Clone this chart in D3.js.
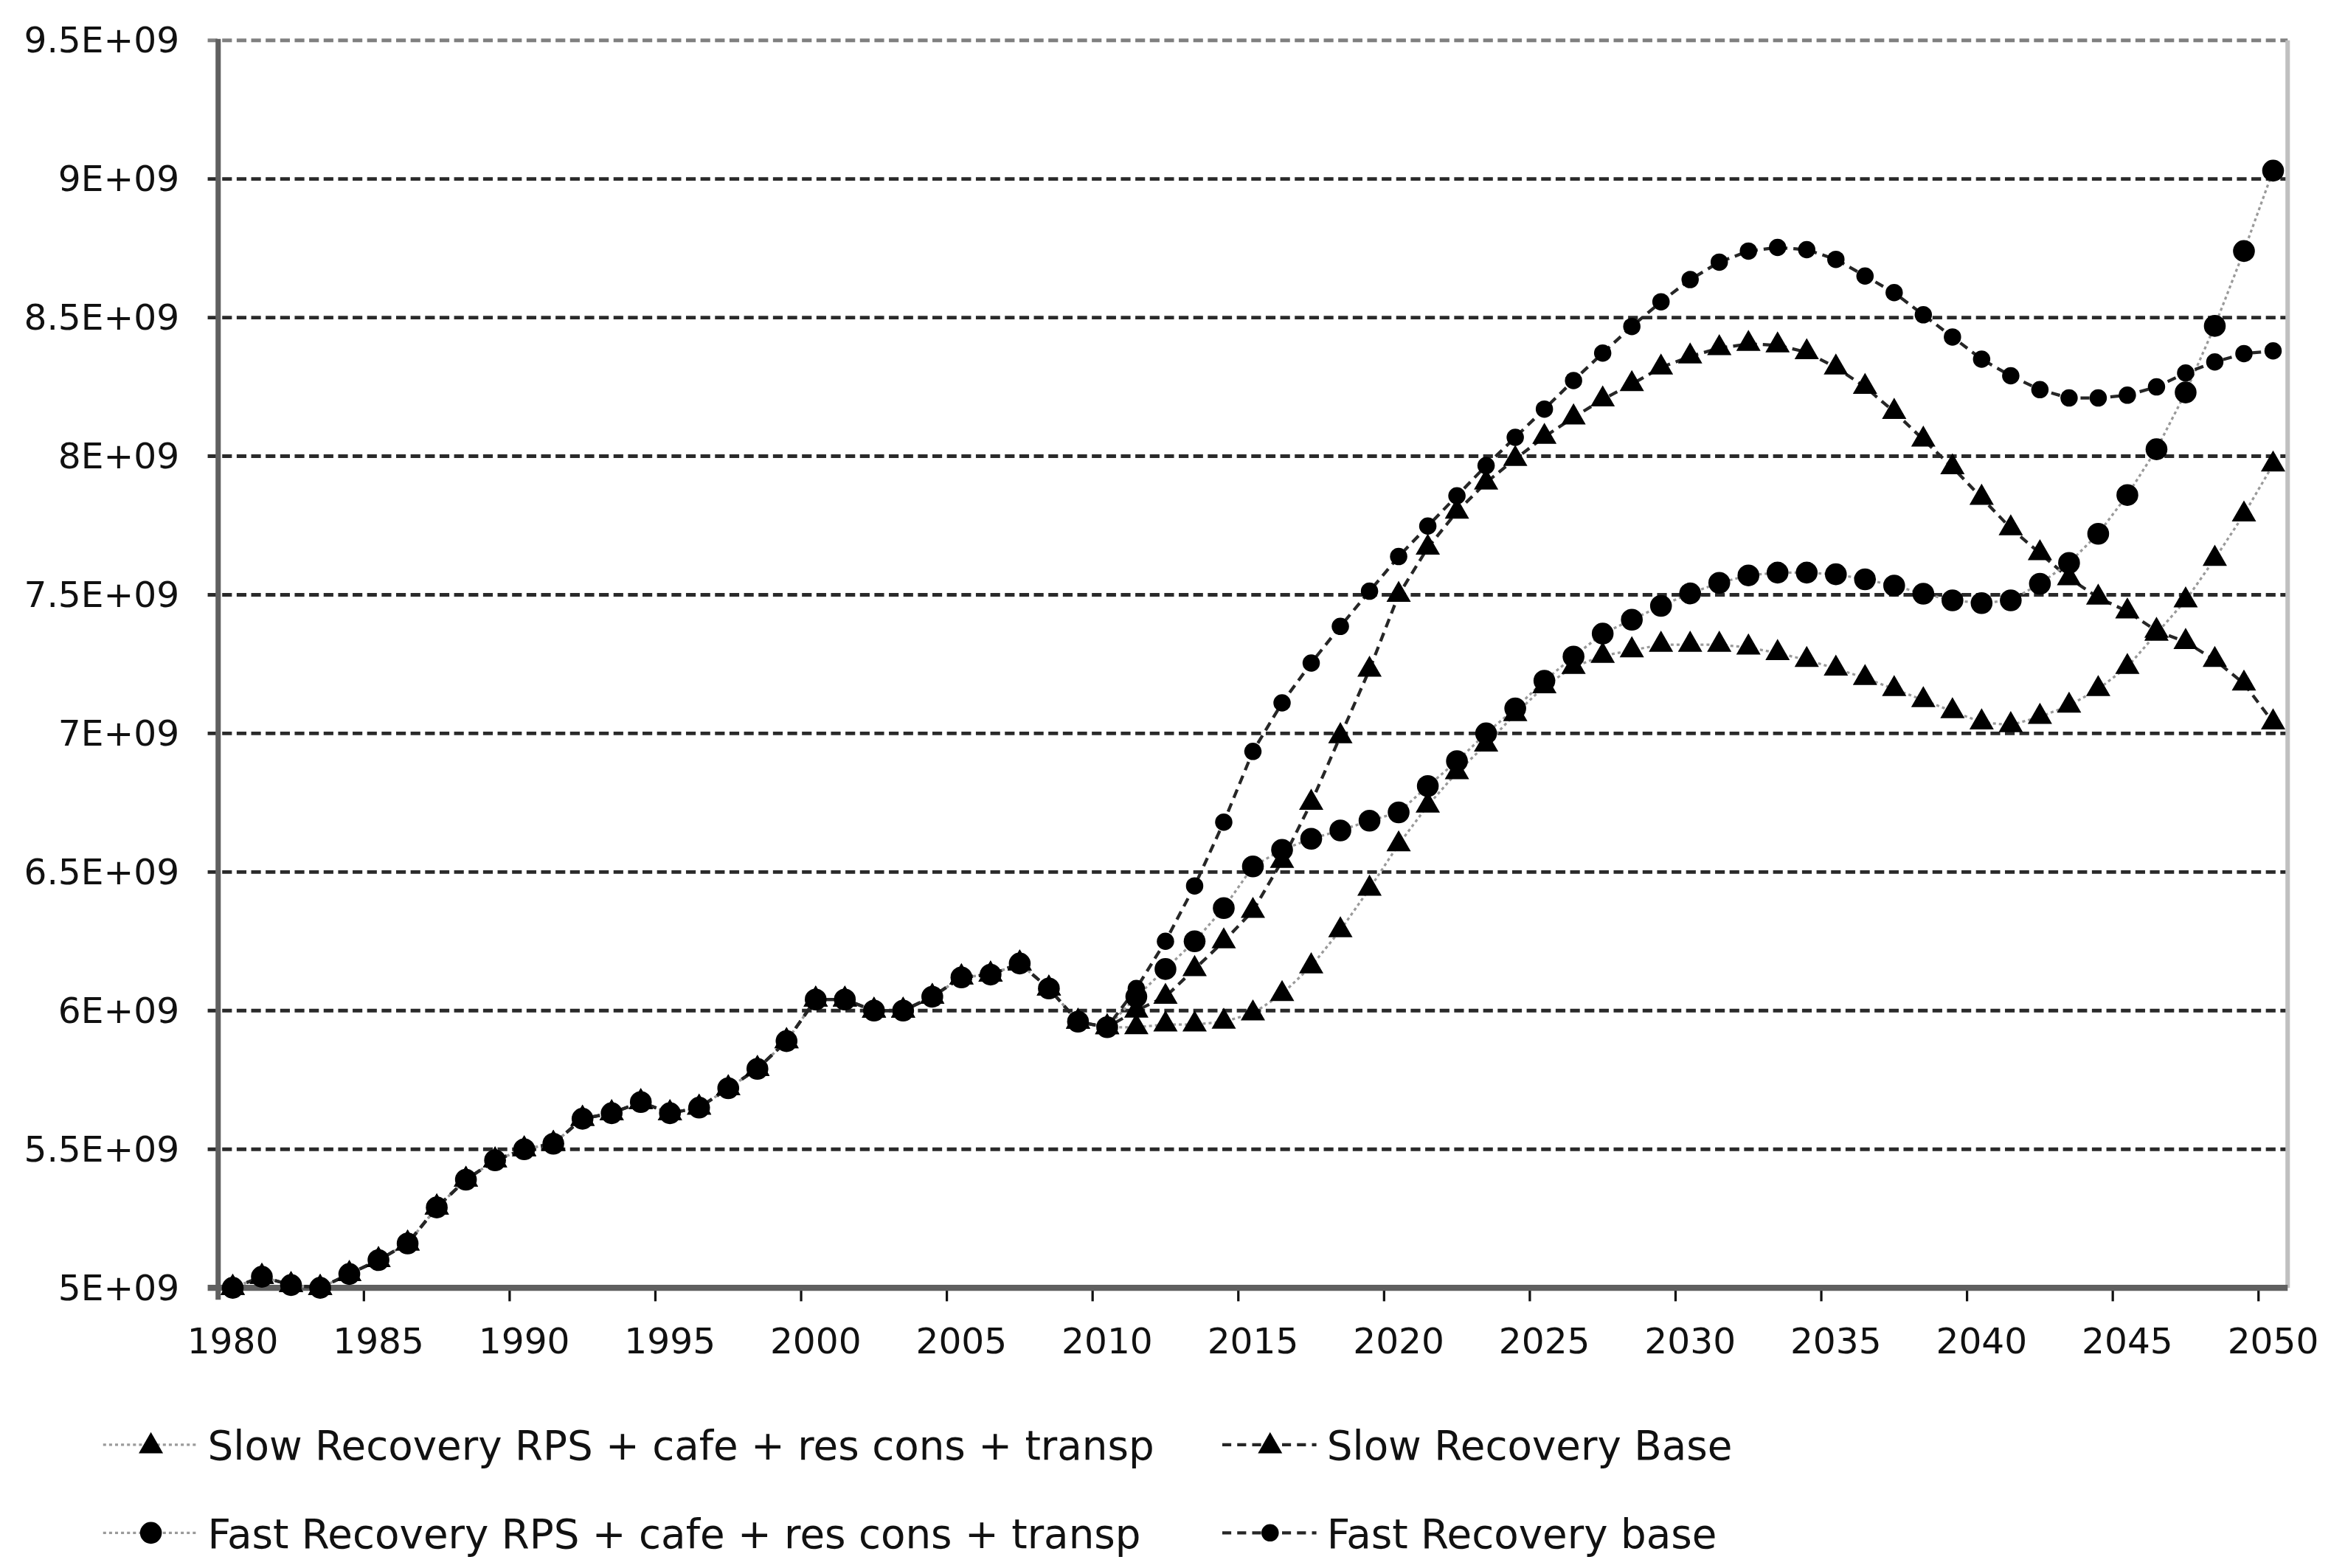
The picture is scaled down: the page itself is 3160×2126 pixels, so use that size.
<!DOCTYPE html>
<html>
<head>
<meta charset="utf-8">
<script src="https://cdnjs.cloudflare.com/ajax/libs/d3/7.8.5/d3.min.js"></script>
<style>
  html, body { margin: 0; padding: 0; background: #fff; }
  svg { display: block; }
</style>
</head>
<body>
<svg id="chart"></svg>
<script>
// categories (one per year)
const years = d3.range(1980, 2051);
const xLabelYears = [1980, 1985, 1990, 1995, 2000, 2005, 2010, 2015, 2020, 2025, 2030, 2035, 2040, 2045, 2050];

// y ticks (values in units of 1E+09)
const yTicks = [5, 5.5, 6, 6.5, 7, 7.5, 8, 8.5, 9, 9.5];
const yTickLabels = ["5E+09", "5.5E+09", "6E+09", "6.5E+09", "7E+09", "7.5E+09", "8E+09", "8.5E+09", "9E+09", "9.5E+09"];

const seriesNames = [
    "Slow Recovery RPS + cafe + res cons + transp",
    "Slow Recovery Base",
    "Fast Recovery RPS + cafe + res cons + transp",
    "Fast Recovery base"
];

// values, 1980..2050, in units of 1E+09
const slowRps = [
    5.00, 5.04, 5.01, 5.00, 5.05, 5.10, 5.16, 5.29, 5.39, 5.46,
    5.50, 5.52, 5.61, 5.63, 5.67, 5.63, 5.65, 5.72, 5.79, 5.89,
    6.04, 6.04, 6.00, 6.00, 6.05, 6.12, 6.13, 6.17, 6.08, 5.96,
    5.94, 5.94, 5.95, 5.95, 5.96, 5.99, 6.06, 6.16, 6.29, 6.44,
    6.60, 6.74, 6.86, 6.96, 7.07, 7.17, 7.24, 7.28, 7.30, 7.32,
    7.32, 7.32, 7.31, 7.29, 7.265, 7.234, 7.20, 7.16, 7.12, 7.08,
    7.04, 7.03, 7.06, 7.10, 7.16, 7.24, 7.36, 7.48, 7.63, 7.79,
    7.97
];
const slowBase = [
    5.00, 5.04, 5.01, 5.00, 5.05, 5.10, 5.16, 5.29, 5.39, 5.46,
    5.50, 5.52, 5.61, 5.63, 5.67, 5.63, 5.65, 5.72, 5.79, 5.89,
    6.04, 6.04, 6.00, 6.00, 6.05, 6.12, 6.13, 6.17, 6.08, 5.96,
    5.94, 6.00, 6.05, 6.15, 6.25, 6.36, 6.54, 6.75, 6.99, 7.23,
    7.50, 7.67, 7.80, 7.905, 7.99, 8.07, 8.14, 8.205, 8.26, 8.32,
    8.36, 8.39, 8.405, 8.40, 8.375, 8.32, 8.25, 8.16, 8.06, 7.96,
    7.85, 7.74, 7.65, 7.56, 7.49, 7.44, 7.37, 7.33, 7.265, 7.18,
    7.04
];
const fastRps = [
    5.00, 5.04, 5.01, 5.00, 5.05, 5.10, 5.16, 5.29, 5.39, 5.46,
    5.50, 5.52, 5.61, 5.63, 5.67, 5.63, 5.65, 5.72, 5.79, 5.89,
    6.04, 6.04, 6.00, 6.00, 6.05, 6.12, 6.13, 6.17, 6.08, 5.96,
    5.94, 6.05, 6.15, 6.25, 6.37, 6.52, 6.58, 6.62, 6.65, 6.685,
    6.715, 6.81, 6.90, 7.00, 7.09, 7.19, 7.277, 7.36, 7.41, 7.46,
    7.505, 7.543, 7.57, 7.58, 7.58, 7.574, 7.556, 7.533, 7.504, 7.48,
    7.47, 7.48, 7.54, 7.615, 7.72, 7.86, 8.025, 8.23, 8.47, 8.74,
    9.03
];
const fastBase = [
    5.00, 5.04, 5.01, 5.00, 5.05, 5.10, 5.16, 5.29, 5.39, 5.46,
    5.50, 5.52, 5.61, 5.63, 5.67, 5.63, 5.65, 5.72, 5.79, 5.89,
    6.04, 6.04, 6.00, 6.00, 6.05, 6.12, 6.13, 6.17, 6.08, 5.96,
    5.94, 6.08, 6.25, 6.45, 6.68, 6.935, 7.11, 7.254, 7.386, 7.513,
    7.638, 7.748, 7.857, 7.966, 8.068, 8.17, 8.273, 8.372, 8.468, 8.557,
    8.637, 8.70, 8.74, 8.753, 8.745, 8.71, 8.65, 8.59, 8.51, 8.43,
    8.35, 8.29, 8.24, 8.21, 8.21, 8.22, 8.25, 8.30, 8.34, 8.37,
    8.38
];

(function() {
    var W = 1560, H = 1049.5;
    var svg = d3.select("#chart")
        .attr("width", 3160)
        .attr("height", 2126)
        .attr("viewBox", "0 0 " + W + " " + H);

    svg.append("rect").attr("width", W).attr("height", H).attr("fill", "#fff");

    var plot = { left: 146, right: 1531, top: 27, bottom: 862 };
    var font = "'DejaVu Sans', Verdana, sans-serif";

    var x = d3.scaleBand().domain(years).range([plot.left, plot.right]).padding(0);
    var cx = function(d) { return x(d) + x.bandwidth() / 2; };
    var y = d3.scaleLinear().domain([5, 9.5]).range([plot.bottom, plot.top]);

    var styles = [
        { values: slowRps,  marker: "triangle", stroke: "#9a9a9a", width: 1.6, dash: "2,2" },
        { values: slowBase, marker: "triangle", stroke: "#262626", width: 2.1, dash: "6,4" },
        { values: fastRps,  marker: "bigcircle", stroke: "#9a9a9a", width: 1.6, dash: "2,2" },
        { values: fastBase, marker: "circle",   stroke: "#262626", width: 2.1, dash: "6,4" }
    ];

    //Grid lines
    svg.append("g")
        .selectAll("line")
        .data(yTicks.filter(function(d) { return d > 5; }))
        .enter().append("line")
          .attr("x1", plot.left - 7)
          .attr("x2", plot.right)
          .attr("y1", function(d) { return y(d); })
          .attr("y2", function(d) { return y(d); })
          .attr("stroke", function(d) { return d === 9.5 ? "#808080" : "#2a2a2a"; })
          .attr("stroke-width", 2.4)
          .attr("stroke-dasharray", "6.5,3.2");

    //Right border
    svg.append("line")
        .attr("x1", plot.right).attr("x2", plot.right)
        .attr("y1", plot.top).attr("y2", plot.bottom)
        .attr("stroke", "#c0c0c0")
        .attr("stroke-width", 3);

    //Y Axis
    var yAxis = svg.append("g")
        .attr("transform", "translate(" + plot.left + ",0)")
        .call(d3.axisLeft(y)
            .tickValues(yTicks)
            .tickSize(0)
            .tickPadding(26)
            .tickFormat(function(d, i) { return yTickLabels[i]; }));
    yAxis.select(".domain").remove();
    yAxis.selectAll("text")
        .attr("font-family", font)
        .attr("font-size", 24)
        .attr("fill", "#111");

    svg.append("line")
        .attr("x1", plot.left).attr("x2", plot.left)
        .attr("y1", plot.top - 1).attr("y2", plot.bottom + 8)
        .attr("stroke", "#606060")
        .attr("stroke-width", 3.5);

    //X Axis
    var xAxis = svg.append("g")
        .attr("transform", "translate(0," + plot.bottom + ")")
        .call(d3.axisBottom(x)
            .tickValues(xLabelYears)
            .tickSize(0)
            .tickPadding(27));
    xAxis.select(".domain").remove();
    xAxis.selectAll("text")
        .attr("font-family", font)
        .attr("font-size", 24)
        .attr("fill", "#111");

    svg.append("g")
        .selectAll("line")
        .data(xLabelYears.slice(1))
        .enter().append("line")
          .attr("x1", function(d) { return x(d); })
          .attr("x2", function(d) { return x(d); })
          .attr("y1", plot.bottom)
          .attr("y2", plot.bottom + 9)
          .attr("stroke", "#111")
          .attr("stroke-width", 1.6);

    svg.append("line")
        .attr("x1", plot.left - 7).attr("x2", plot.right)
        .attr("y1", plot.bottom).attr("y2", plot.bottom)
        .attr("stroke", "#606060")
        .attr("stroke-width", 4);

    //Lines
    var line = d3.line()
        .x(function(d, i) { return cx(years[i]); })
        .y(function(d) { return y(d); });

    styles.forEach(function(s) {
        svg.append("path")
            .datum(s.values)
            .attr("d", line)
            .attr("fill", "none")
            .attr("stroke", s.stroke)
            .attr("stroke-width", s.width)
            .attr("stroke-dasharray", s.dash);
    });

    //Markers
    var triangle = d3.symbol().type(d3.symbolTriangle).size(115);

    function drawMarker(g, type, px, py) {
        if (type === "triangle") {
            g.append("path")
                .attr("d", triangle())
                .attr("transform", "translate(" + px + "," + py + ")")
                .attr("fill", "#000");
        } else {
            g.append("circle")
                .attr("cx", px)
                .attr("cy", py)
                .attr("r", type === "bigcircle" ? 7.3 : 5.8)
                .attr("fill", "#000");
        }
    }

    styles.forEach(function(s) {
        var g = svg.append("g");
        s.values.forEach(function(v, i) {
            drawMarker(g, s.marker, cx(years[i]), y(v));
        });
    });

    //Legend
    var legendPos = [
        { x: 69,  y: 967 },
        { x: 818, y: 967 },
        { x: 69,  y: 1026 },
        { x: 818, y: 1026 }
    ];

    seriesNames.forEach(function(name, i) {
        var s = styles[i], p = legendPos[i];
        var g = svg.append("g").attr("transform", "translate(" + p.x + "," + p.y + ")");
        g.append("line")
            .attr("x1", 0).attr("x2", 63)
            .attr("y1", 0).attr("y2", 0)
            .attr("stroke", s.stroke)
            .attr("stroke-width", s.width)
            .attr("stroke-dasharray", s.dash);
        drawMarker(g, s.marker, 32, s.marker === "triangle" ? 1 : 0);
        g.append("text")
            .attr("x", 70)
            .attr("y", 10)
            .attr("font-family", font)
            .attr("font-size", 27)
            .attr("fill", "#111")
            .text(name);
    });
})();
</script>
</body>
</html>
